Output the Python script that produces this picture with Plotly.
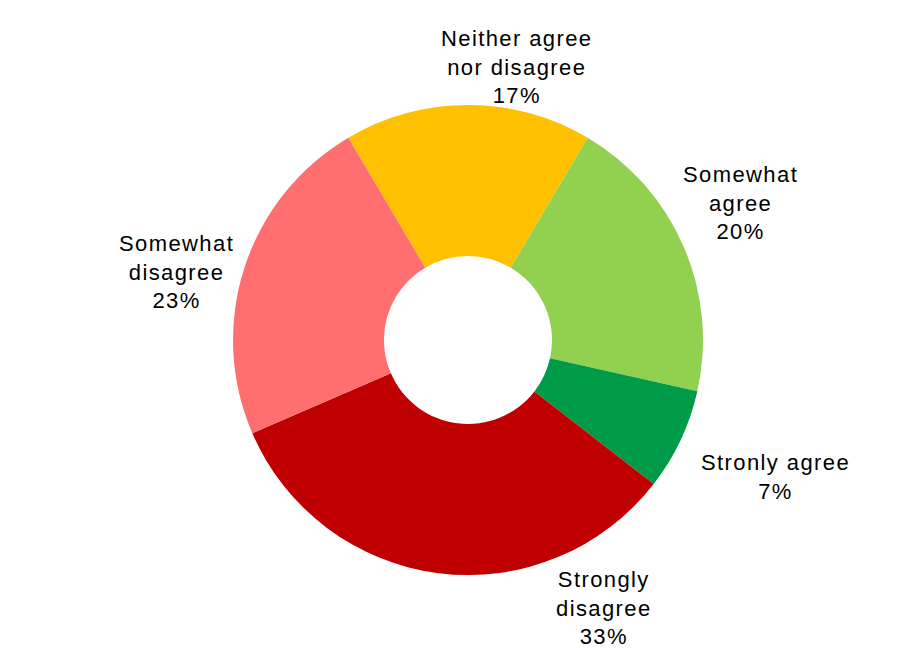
import plotly.graph_objects as go

labels = ["Neither agree<br>nor disagree", "Somewhat<br>agree", "Stronly agree",
          "Strongly<br>disagree", "Somewhat<br>disagree"]
values = [17, 20, 7, 33, 23]
colors = ["#FFC000", "#92D050", "#009B48", "#C00000", "#FF6F6F"]

W, H = 913, 648
cx, cy, R = 468, 340, 235
# label block centres (pixels)
label_pos = [(517, 67), (740, 203), (775, 477), (604, 608), (176, 272)]

fig = go.Figure(go.Pie(
    labels=labels, values=values, sort=False, direction="clockwise",
    rotation=-values[0] / 100 * 180, hole=84 / 235,
    marker=dict(colors=colors, line=dict(width=0)),
    textinfo="none", hoverinfo="label+percent",
    domain=dict(x=[(cx - R) / W, (cx + R) / W], y=[1 - (cy + R) / H, 1 - (cy - R) / H]),
))

for lab, v, (px, py) in zip(labels, values, label_pos):
    lines = f"{lab}<br>{v}%".split("<br>")
    txt = "<br>".join(f'<span style="letter-spacing:1.4px">{ln}</span>' for ln in lines)
    fig.add_annotation(
        text=txt, x=px / W, y=1 - py / H, xref="paper", yref="paper",
        xanchor="center", yanchor="middle", showarrow=False, align="center",
        font=dict(family="Liberation Sans, Arial, sans-serif", size=22, color="#000000"),
    )

fig.update_layout(
    width=W, height=H, margin=dict(l=0, r=0, t=0, b=0),
    showlegend=False, paper_bgcolor="white", plot_bgcolor="white",
)

fig.write_html("out.html")
